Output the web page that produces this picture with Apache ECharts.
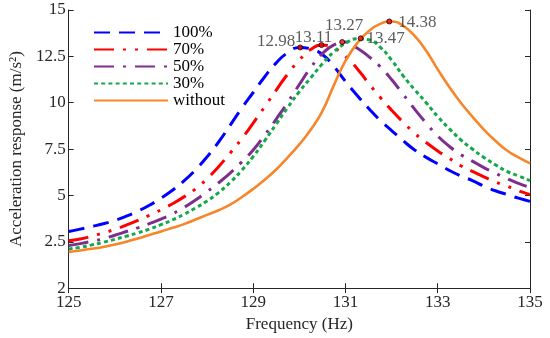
<!DOCTYPE html>
<html>
<head>
<meta charset="utf-8">
<script src="https://cdn.jsdelivr.net/npm/echarts@6/dist/echarts.min.js"></script>
<style>
html,body{margin:0;padding:0;background:#fff;}
#chart{width:550px;height:338px;}
</style>
</head>
<body>
<div id="chart"></div>
<script>
// ---- data ----
const freq = [125,125.25,125.5,125.75,126,126.25,126.5,126.75,127,127.25,127.5,127.75,128,128.25,128.5,128.75,129,129.25,129.5,129.75,130,130.25,130.5,130.75,131,131.25,131.5,131.75,132,132.25,132.5,132.75,133,133.25,133.5,133.75,134,134.25,134.5,134.75,135];
const seriesNames = ['100%','70%','50%','30%','without'];
const v100 = [3.05,3.18,3.32,3.47,3.65,3.88,4.15,4.47,4.85,5.28,5.78,6.38,7.08,7.88,8.78,9.7,10.55,11.4,12.15,12.7,12.98,12.9,12.6,11.95,11.15,10.4,9.7,9.05,8.5,7.95,7.45,7.05,6.7,6.35,6.05,5.8,5.5,5.25,5.05,4.85,4.68];
const v70 = [2.55,2.65,2.8,2.98,3.17,3.4,3.65,3.93,4.22,4.55,4.92,5.35,5.9,6.55,7.28,8.05,8.9,9.78,10.68,11.55,12.3,12.88,13.11,12.95,12.5,11.85,11.05,10.3,9.6,8.95,8.35,7.85,7.4,7.0,6.6,6.3,6.0,5.72,5.5,5.25,5.04];
const v50 = [2.3,2.4,2.52,2.66,2.85,3.05,3.25,3.48,3.72,4.0,4.35,4.75,5.2,5.68,6.2,6.8,7.45,8.25,9.12,10.02,10.98,11.9,12.65,13.12,13.27,12.95,12.5,11.95,11.25,10.45,9.65,8.9,8.2,7.65,7.2,6.85,6.5,6.2,5.9,5.65,5.43];
const v30 = [2.1,2.2,2.33,2.47,2.63,2.8,2.98,3.18,3.42,3.68,3.98,4.32,4.7,5.15,5.7,6.35,7.1,7.95,8.85,9.75,10.6,11.35,12.1,12.75,13.2,13.45,13.4,13.0,12.3,11.45,10.7,10.0,9.25,8.6,8.0,7.5,7.05,6.65,6.3,6.05,5.8];
const vWithout = [1.95,2.03,2.12,2.22,2.35,2.5,2.68,2.87,3.05,3.25,3.45,3.7,3.95,4.2,4.5,4.9,5.35,5.85,6.4,7.05,7.75,8.55,9.55,10.95,12.25,13.2,13.85,14.25,14.38,14.15,13.6,12.8,11.8,10.85,10.0,9.25,8.55,7.95,7.42,7.05,6.73];
const peakFreq = [130.02,130.48,130.93,131.33,131.95];
const peakVal = [12.98,13.11,13.27,13.47,14.38];
const xTicks = [125,127,129,131,133,135];
const yTicks = [0,2.5,5,7.5,10,12.5,15];
const yTickLabels = ['2','2.5','5','7.5','10','12.5','15'];

// ---- styles ----
const FONT = 'Liberation Serif';
const TXT = '#262626';
const colors = ['#0000FF','#FF0000','#7E2F8E','#14A84A','#F7852A'];
const dashes = [[16,9],[20,9,3,9,3,9],[20,9,3,9],[4,3.2],'solid'];
const widths = [3,3,3,3,2.6];
const peakLabelOffset = [[-24,-6],[-8,-8],[2,-17],[25,0],[28,1]];

const values = [v100,v70,v50,v30,vWithout];
const lineSeries = seriesNames.map((n,i)=>({
  name:n, type:'line', xAxisIndex:0, yAxisIndex:0,
  data: freq.map((f,k)=>[f, values[i][k]]),
  smooth:0.5, symbol:'none', showSymbol:false,
  lineStyle:{color:colors[i], width:widths[i], type:dashes[i], cap:'butt'},
  itemStyle:{color:colors[i]},
  z:2
}));

const peakSeries = {
  name:'peaks', type:'scatter', xAxisIndex:0, yAxisIndex:0,
  symbol:'circle', symbolSize:5,
  itemStyle:{color:'#FF0000', borderColor:'#000', borderWidth:1},
  data: peakFreq.map((f,i)=>({
    value:[f, peakVal[i]],
    label:{show:true, position:'inside', offset:peakLabelOffset[i],
      formatter: peakVal[i].toFixed(2),
      fontFamily:FONT, fontSize:17, color:'#333'}
  })),
  z:5
};

const axisCommon = {
  axisLine:{show:true, lineStyle:{color:'#262626', width:1}},
  axisTick:{show:true, inside:true, length:5, lineStyle:{color:'#262626'}},
  splitLine:{show:false}
};

const option = {
  animation:false,
  backgroundColor:'#fff',
  grid:{left:49, right:20, top:10, bottom:47},
  legend:{
    data:seriesNames, orient:'vertical', left:88, top:19,
    itemWidth:74, itemHeight:14, itemGap:0,
    itemStyle:{opacity:0, borderWidth:0},
    textStyle:{fontFamily:FONT, fontSize:17, color:'#000', lineHeight:17}
  },
  xAxis:[
    Object.assign({}, axisCommon, {
      type:'value', min:125, max:135, position:'bottom',
      axisTick:Object.assign({}, axisCommon.axisTick, {customValues:xTicks}),
      axisLabel:{customValues:xTicks, fontFamily:FONT, fontSize:17, color:TXT, margin:6},
      name:'Frequency (Hz)', nameLocation:'middle', nameGap:25,
      nameTextStyle:{fontFamily:FONT, fontSize:17, color:TXT}
    }),
    Object.assign({}, axisCommon, {
      type:'value', min:125, max:135, position:'top',
      axisTick:Object.assign({}, axisCommon.axisTick, {customValues:xTicks}),
      axisLabel:{show:false, customValues:xTicks}
    })
  ],
  yAxis:[
    Object.assign({}, axisCommon, {
      type:'value', min:0, max:15, interval:2.5, position:'left',
      axisLabel:{fontFamily:FONT, fontSize:17, color:TXT, margin:3,
        formatter:(v)=>{const i=yTicks.indexOf(v); return i>=0?yTickLabels[i]:'';}},
      name:'Acceleration response (m/s²)', nameLocation:'middle', nameGap:27,
      nameTextStyle:{fontFamily:FONT, fontSize:17, color:TXT}
    }),
    Object.assign({}, axisCommon, {
      type:'value', min:0, max:15, interval:2.5, position:'right',
      axisLabel:{show:false}
    })
  ],
  series: lineSeries.concat([peakSeries])
};

const chart = echarts.init(document.getElementById('chart'), null, {renderer:'canvas'});
chart.setOption(option);
</script>
</body>
</html>
